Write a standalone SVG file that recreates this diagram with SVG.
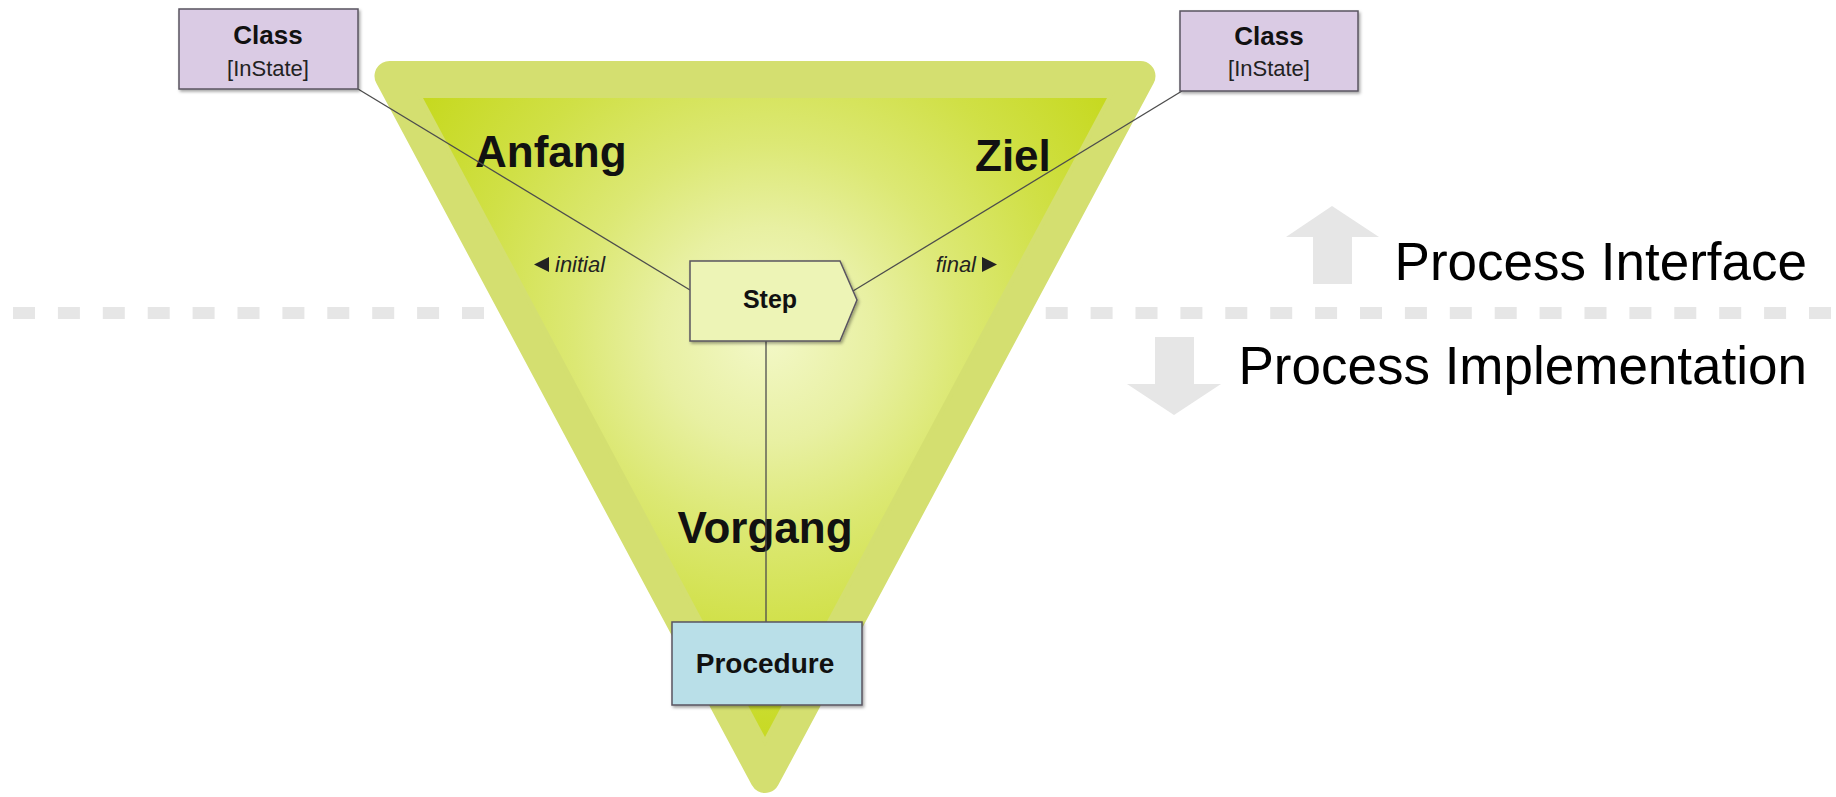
<svg xmlns="http://www.w3.org/2000/svg" width="1836" height="797" viewBox="0 0 1836 797">
  <defs>
    <radialGradient id="innerGrad" gradientUnits="userSpaceOnUse" cx="767" cy="335" r="430">
      <stop offset="0" stop-color="#f3f8c8"/>
      <stop offset="0.25" stop-color="#e8f0a2"/>
      <stop offset="0.45" stop-color="#dce874"/>
      <stop offset="0.7" stop-color="#d0e046"/>
      <stop offset="1" stop-color="#c5d81a"/>
    </radialGradient>
    <filter id="shadow" x="-10%" y="-10%" width="130%" height="140%">
      <feDropShadow dx="1.5" dy="2" stdDeviation="1.5" flood-color="#000" flood-opacity="0.35"/>
    </filter>
  </defs>
  <style>
    .lbl { font-family: "Liberation Sans", Arial, sans-serif; fill: #111; }
    .big { font-size: 44px; font-weight: bold; }
    .node { stroke: #5a5560; stroke-width: 1.5; filter: url(#shadow); }
    .cls { fill: #dacbe4; }
    .cname { font-size: 26px; font-weight: bold; text-anchor: middle; }
    .cstate { font-size: 22px; text-anchor: middle; fill: #222; }
    .edge { stroke: #4d4d4d; stroke-width: 1.3; fill: none; }
    .role { font-size: 22px; font-style: italic; fill: #222; }
    .side { font-family: "Liberation Sans", Arial, sans-serif; font-size: 53px; fill: #000; text-anchor: end; }
    .arrow { fill: #e6e6e6; }
  </style>

  <!-- separator -->
  <g id="separator">
    <line x1="13" y1="313" x2="1836" y2="313" stroke="#e6e6e6" stroke-width="12" stroke-dasharray="22 22.9"/>
  </g>

  <!-- side arrows and texts -->
  <g id="interface-arrow">
    <polygon class="arrow" points="1332,206 1379,237 1352,237 1352,284 1313,284 1313,237 1286,237"/>
    <text class="side" x="1807" y="280">Process Interface</text>
  </g>
  <g id="implementation-arrow">
    <polygon class="arrow" points="1155,337 1194,337 1194,384 1221,384 1174,415 1127,384 1155,384"/>
    <text class="side" x="1807" y="384">Process Implementation</text>
  </g>

  <!-- triangle -->
  <g id="triangle">
    <polygon points="389.5,76 1140.5,76 765,778" fill="#d4df70" stroke="#d4df70" stroke-width="30" stroke-linejoin="round"/>
    <polygon points="423,98 1107,98 765,737" fill="url(#innerGrad)"/>
    <text class="lbl big" x="475" y="167">Anfang</text>
    <text class="lbl big" x="975" y="171">Ziel</text>
    <text class="lbl big" x="765" y="543" text-anchor="middle">Vorgang</text>
  </g>

  <!-- connectors -->
  <g id="connectors">
    <line class="edge" x1="358" y1="89" x2="690" y2="290"/>
    <line class="edge" x1="1182" y1="91" x2="853" y2="291"/>
    <line class="edge" x1="766" y1="341" x2="766" y2="622"/>
  </g>

  <g id="label-initial">
    <polygon points="534,264.5 549,257 549,272" fill="#222"/>
    <text class="lbl role" x="555" y="272">initial</text>
  </g>
  <g id="label-final">
    <text class="lbl role" x="976" y="272" text-anchor="end">final</text>
    <polygon points="982,257 997,264.5 982,272" fill="#222"/>
  </g>

  <!-- nodes -->
  <g id="class-left">
    <rect class="node cls" x="179" y="9" width="179" height="80"/>
    <text class="lbl cname" x="268" y="44">Class</text>
    <text class="lbl cstate" x="268" y="76">[InState]</text>
  </g>
  <g id="class-right">
    <rect class="node cls" x="1180" y="11" width="178" height="80"/>
    <text class="lbl cname" x="1269" y="45">Class</text>
    <text class="lbl cstate" x="1269" y="76">[InState]</text>
  </g>
  <g id="step">
    <path class="node" d="M690,261 H840 L857,300 L840,341 H690 Z" fill="#edf4b6"/>
    <text class="lbl" x="770" y="308" font-size="25" font-weight="bold" text-anchor="middle">Step</text>
  </g>
  <g id="procedure">
    <rect class="node" x="672" y="622" width="190" height="83" fill="#b9dfe8"/>
    <text class="lbl" x="765" y="673" font-size="28" font-weight="bold" text-anchor="middle">Procedure</text>
  </g>
</svg>
